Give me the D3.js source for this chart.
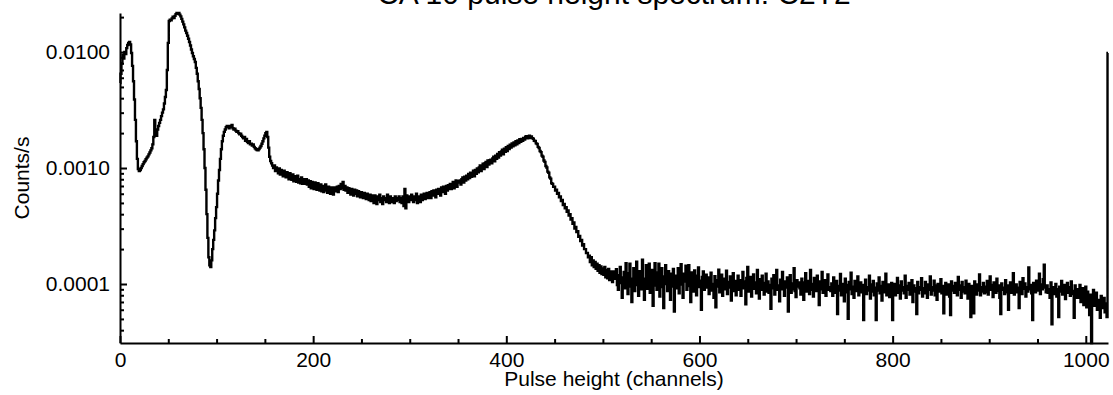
<!DOCTYPE html>
<html>
<head>
<meta charset="utf-8">
<script src="https://cdn.jsdelivr.net/npm/d3@7"></script>
<style>
  body { margin: 0; background: #fff; }
  text { font-family: "Liberation Sans", Arial, Helvetica, sans-serif; fill: #000; }
</style>
</head>
<body>
<div id="chart"></div>
<script>
// Count rate per channel, in units of 1e-6 counts/s (32 channels per row)
const rateMicro = [
  5400, 6500, 8000, 9500, 8800, 10000, 9600, 10800, 11500, 12000, 12200, 11600, 9800, 7600, 5600, 3900, 2600, 1700, 1200, 980, 940, 960, 1000, 1040, 1080, 1120, 1150, 1190, 1230, 1260, 1310, 1360,
  1420, 1480, 1600, 1850, 2600, 2100, 1900, 2150, 2300, 2450, 2600, 2800, 3000, 3200, 3600, 4100, 4700, 7000, 12000, 18500, 19000, 18800, 19500, 20200, 19600, 20500, 21200, 21700, 21400, 21700, 21000, 20300,
  19300, 18300, 17300, 16300, 15300, 14600, 13800, 13000, 12200, 11400, 10500, 9800, 9200, 8700, 8200, 7300, 6500, 5600, 4800, 4000, 3300, 2600, 2000, 1450, 1000, 650, 400, 250, 170, 145, 140, 160,
  200, 240, 290, 370, 460, 600, 780, 960, 1200, 1450, 1700, 1900, 2050, 2150, 2250, 2300, 2250, 2200, 2300, 2250, 2350, 2200, 2150, 2180, 2100, 2050, 2080, 2000, 1950, 1980, 1900, 1850,
  1800, 1850, 1720, 1780, 1680, 1640, 1700, 1600, 1620, 1560, 1600, 1520, 1480, 1450, 1430, 1420, 1460, 1500, 1550, 1620, 1700, 1800, 1900, 2000, 2050, 1850, 1500, 1250, 1150, 1100, 1050, 1000,
  1050, 940, 1010, 960, 900, 990, 880, 960, 920, 850, 950, 860, 830, 920, 870, 800, 900, 840, 790, 880, 770, 850, 820, 760, 860, 750, 800, 740, 830, 730, 800, 760,
  730, 800, 720, 780, 690, 770, 670, 760, 730, 660, 750, 700, 650, 740, 690, 640, 720, 630, 700, 620, 690, 720, 640, 610, 690, 650, 600, 680, 640, 590, 680, 630,
  650, 690, 620, 700, 660, 730, 670, 760, 650, 700, 640, 680, 610, 670, 640, 590, 660, 610, 580, 650, 600, 640, 570, 630, 600, 560, 620, 580, 550, 610, 570, 540,
  600, 560, 530, 590, 520, 580, 550, 500, 580, 540, 490, 570, 530, 590, 510, 550, 490, 570, 530, 550, 510, 590, 530, 500, 570, 510, 550, 530, 500, 570, 520, 550,
  530, 570, 510, 550, 500, 570, 470, 660, 450, 580, 550, 510, 570, 530, 590, 540, 510, 570, 530, 600, 500, 570, 540, 510, 590, 530, 570, 600, 540, 580, 610, 550,
  570, 620, 550, 630, 580, 640, 600, 560, 650, 600, 660, 620, 580, 680, 620, 690, 640, 600, 700, 640, 710, 660, 730, 660, 700, 760, 670, 730, 780, 690, 750, 770,
  780, 720, 800, 830, 750, 840, 780, 860, 800, 890, 820, 910, 840, 900, 950, 850, 960, 890, 990, 920, 1010, 1050, 940, 1050, 1090, 980, 1100, 1130, 1020, 1160, 1070, 1170,
  1180, 1100, 1210, 1250, 1140, 1280, 1200, 1320, 1230, 1370, 1280, 1390, 1440, 1310, 1470, 1380, 1510, 1400, 1550, 1460, 1590, 1500, 1630, 1540, 1660, 1570, 1700, 1600, 1730, 1640, 1770, 1680,
  1780, 1720, 1820, 1760, 1860, 1880, 1800, 1870, 1900, 1810, 1870, 1810, 1790, 1720, 1710, 1630, 1610, 1520, 1490, 1400, 1370, 1280, 1250, 1160, 1130, 1040, 1010, 930, 910, 830, 810, 740,
  730, 690, 690, 640, 650, 600, 610, 560, 570, 520, 530, 480, 490, 450, 460, 420, 430, 390, 400, 360, 370, 330, 340, 300, 310, 280, 285, 255, 260, 235, 240, 215,
  220, 200, 200, 185, 185, 170, 175, 155, 170, 145, 160, 140, 155, 135, 150, 130, 145, 125, 142, 122, 136, 120, 140, 114, 132, 112, 135, 108, 128, 116, 104, 128,
  124, 111, 134, 98, 89, 119, 140, 102, 76, 114, 127, 92, 151, 105, 82, 124, 150, 95, 70, 111, 137, 87, 116, 156, 98, 79, 129, 108, 90, 162, 111, 73,
  103, 145, 91, 116, 150, 84, 110, 132, 65, 121, 151, 97, 89, 126, 150, 78, 107, 137, 94, 62, 116, 145, 100, 87, 129, 110, 73, 123, 95, 135, 58, 105,
  118, 92, 137, 83, 112, 148, 99, 76, 123, 105, 144, 89, 115, 145, 96, 70, 126, 108, 86, 131, 104, 80, 118, 139, 94, 107, 60, 115, 128, 89, 100, 120,
  93, 114, 82, 104, 125, 88, 100, 76, 117, 63, 108, 95, 133, 85, 101, 120, 79, 96, 111, 90, 130, 82, 104, 93, 116, 72, 98, 124, 87, 106, 80, 101,
  118, 89, 108, 79, 99, 127, 92, 105, 67, 113, 140, 86, 100, 115, 78, 95, 121, 91, 103, 83, 132, 97, 75, 110, 89, 118, 102, 81, 94, 123, 86, 105,
  84, 98, 61, 111, 92, 119, 81, 101, 132, 89, 97, 71, 109, 90, 127, 100, 79, 105, 93, 114, 58, 97, 119, 84, 101, 90, 137, 87, 77, 108, 95, 103,
  92, 81, 111, 98, 73, 103, 124, 86, 95, 106, 82, 132, 89, 100, 78, 113, 94, 87, 118, 97, 66, 105, 90, 127, 84, 98, 108, 79, 102, 121, 89, 94,
  87, 101, 79, 114, 93, 84, 106, 55, 96, 88, 122, 80, 100, 92, 71, 111, 85, 98, 50, 104, 90, 125, 82, 95, 76, 106, 87, 100, 116, 80, 93, 103,
  85, 98, 49, 91, 109, 82, 94, 88, 118, 75, 99, 86, 106, 80, 93, 49, 101, 88, 114, 83, 96, 72, 104, 91, 85, 123, 80, 94, 99, 77, 90, 102,
  49, 89, 100, 80, 92, 113, 84, 97, 75, 105, 88, 94, 83, 118, 76, 96, 89, 102, 81, 91, 108, 70, 97, 86, 92, 55, 104, 83, 94, 89, 112, 78,
  92, 83, 104, 86, 76, 99, 89, 116, 81, 94, 88, 107, 80, 97, 73, 100, 91, 86, 110, 83, 96, 56, 89, 102, 81, 92, 99, 78, 54, 105, 88, 96,
  84, 102, 91, 80, 115, 89, 97, 76, 104, 86, 94, 83, 107, 88, 75, 100, 89, 52, 96, 84, 56, 105, 92, 81, 99, 88, 121, 80, 94, 86, 102, 83,
  95, 85, 106, 81, 92, 116, 89, 98, 77, 103, 90, 84, 111, 87, 97, 76, 55, 101, 89, 93, 82, 108, 85, 97, 60, 90, 103, 84, 95, 124, 81, 92,
  99, 85, 93, 62, 104, 88, 82, 112, 91, 101, 78, 94, 86, 139, 90, 98, 83, 49, 102, 93, 85, 107, 88, 96, 123, 82, 99, 90, 110, 147, 93, 85,
  97, 84, 90, 76, 103, 45, 94, 87, 82, 100, 78, 90, 52, 95, 86, 106, 81, 92, 98, 74, 89, 102, 84, 94, 79, 105, 87, 82, 51, 97, 76, 90,
  89, 76, 98, 70, 82, 92, 66, 79, 95, 63, 86, 74, 54, 81, 31, 71, 89, 65, 78, 84, 60, 73, 70, 51, 79, 66, 62, 76, 57, 68, 52, 9800
];

const xTicks = [0, 200, 400, 600, 800, 1000];
const xMinorTicks = [50, 100, 150, 250, 300, 350, 450, 500, 550, 650, 700, 750, 850, 900, 950];
const yTicks = [0.0001, 0.001, 0.01];
const chartTitle = "CA 10 pulse height spectrum: C2T2";
const xLabel = "Pulse height (channels)";
const yLabel = "Counts/s";

function createChart(counts) {
    // Set up chart dimensions
    const margin = { top: 13, right: 5, bottom: 52, left: 120 };
    const width = 1113 - margin.left - margin.right;
    const height = 395 - margin.top - margin.bottom;

    const svg = d3.select("#chart")
        .append("svg")
        .attr("width", width + margin.left + margin.right)
        .attr("height", height + margin.top + margin.bottom)
        .append("g")
        .attr("transform", "translate(" + margin.left + "," + margin.top + ")");

    // Scales: channel number and log count rate
    const xScale = d3.scaleLinear()
        .domain([0, counts.length - 1])
        .range([0, width]);

    const yScale = d3.scaleLog()
        .domain(d3.extent(counts))
        .range([height, 0]);

    // Minor log ticks 2..9 in each decade inside the range
    const [yLo, yHi] = yScale.domain();
    const yMinorTicks = [];
    [1e-5, 1e-4, 1e-3, 1e-2].forEach(dec => {
        for (let m = 2; m <= 9; m++) {
            const v = m * dec;
            if (v >= yLo && v <= yHi) yMinorTicks.push(v);
        }
    });

    // Histogram line
    const line = d3.line()
        .x((d, i) => xScale(i))
        .y(d => yScale(d))
        .curve(d3.curveStep);

    svg.append("path")
        .datum(counts)
        .attr("d", line)
        .attr("fill", "none")
        .attr("stroke", "#000")
        .attr("stroke-width", 2.4)
        .attr("stroke-linejoin", "miter");

    // X axis (ticks pointing inwards)
    const xAxis = svg.append("g")
        .attr("transform", "translate(0," + height + ")");
    xAxis.append("g")
        .call(d3.axisBottom(xScale).tickValues(xMinorTicks).tickSizeInner(-4).tickSizeOuter(0).tickFormat(""))
        .call(g => g.select(".domain").remove());
    xAxis.append("g")
        .call(d3.axisBottom(xScale).tickValues(xTicks).tickSizeInner(-7).tickSizeOuter(0)
            .tickPadding(9).tickFormat(d3.format("d")))
        .selectAll("text")
        .style("font-size", "21px");

    // Y axis
    const yAxis = svg.append("g");
    yAxis.append("g")
        .call(d3.axisLeft(yScale).tickValues(yMinorTicks).tickSizeInner(-4).tickSizeOuter(0).tickFormat(""))
        .call(g => g.select(".domain").remove());
    yAxis.append("g")
        .call(d3.axisLeft(yScale).tickValues(yTicks).tickSizeInner(-7).tickSizeOuter(0)
            .tickPadding(10).tickFormat(d3.format(".4f")))
        .selectAll("text")
        .style("font-size", "21px");

    svg.selectAll(".domain, .tick line")
        .attr("stroke", "#000")
        .attr("stroke-width", 2);

    // Title and axis labels
    svg.append("text")
        .attr("x", width / 2)
        .attr("y", -margin.top + 4)
        .attr("text-anchor", "middle")
        .style("font-size", "30px")
        .text(chartTitle);

    svg.append("text")
        .attr("x", width / 2)
        .attr("y", height + 43)
        .attr("text-anchor", "middle")
        .style("font-size", "21px")
        .text(xLabel);

    svg.append("text")
        .attr("transform", "translate(" + (-margin.left + 29) + "," + (height / 2) + ") rotate(-90)")
        .attr("text-anchor", "middle")
        .style("font-size", "21px")
        .text(yLabel);
}

createChart(rateMicro.map(v => v * 1e-6));
</script>
</body>
</html>
